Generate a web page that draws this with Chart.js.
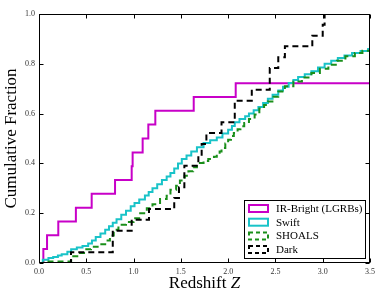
<!DOCTYPE html>
<html><head><meta charset="utf-8">
<script src="https://cdn.jsdelivr.net/npm/chart.js@4.4.1/dist/chart.umd.min.js"></script>
<style>html,body{margin:0;padding:0;background:#fff;}canvas{display:block;}</style>
</head><body>
<canvas id="c" width="390" height="293"></canvas>
<script>
// ---- data ----
const seriesNames = ['IR-Bright (LGRBs)', 'Swift', 'SHOALS', 'Dark'];
const seriesColors = ['#c800c8', '#19c3c8', '#1a8f1a', '#000000'];
const xTickValues = [0, 0.5, 1.0, 1.5, 2.0, 2.5, 3.0, 3.5];
const yTickValues = [0, 0.2, 0.4, 0.6, 0.8, 1.0];

const irZ = [0, 0.046, 0.085, 0.204, 0.39, 0.557, 0.804, 0.98, 0.99, 1.096, 1.156, 1.23, 1.636, 2.08, 3.5];
const irF = [0, 0.056, 0.111, 0.167, 0.222, 0.278, 0.333, 0.389, 0.444, 0.5, 0.556, 0.611, 0.667, 0.722, 0.722];

const swiftZ = [0, 0.04, 0.1, 0.15, 0.2, 0.24, 0.3, 0.34, 0.4, 0.46, 0.52, 0.56, 0.6, 0.65, 0.7, 0.74, 0.78, 0.82, 0.87, 0.92, 0.97, 1.01, 1.06, 1.12, 1.16, 1.2, 1.25, 1.3, 1.35, 1.39, 1.43, 1.47, 1.51, 1.56, 1.61, 1.67, 1.74, 1.81, 1.88, 1.94, 2.0, 2.04, 2.07, 2.12, 2.18, 2.22, 2.27, 2.32, 2.37, 2.42, 2.47, 2.53, 2.58, 2.64, 2.69, 2.74, 2.81, 2.88, 2.95, 3.02, 3.09, 3.16, 3.23, 3.31, 3.4, 3.48, 3.5];
const swiftF = [0, 0.013, 0.02, 0.024, 0.03, 0.035, 0.045, 0.055, 0.062, 0.068, 0.078, 0.09, 0.104, 0.118, 0.134, 0.148, 0.162, 0.176, 0.194, 0.21, 0.228, 0.241, 0.255, 0.271, 0.285, 0.3, 0.316, 0.333, 0.347, 0.361, 0.38, 0.4, 0.418, 0.432, 0.448, 0.465, 0.482, 0.493, 0.504, 0.52, 0.535, 0.55, 0.565, 0.578, 0.589, 0.6, 0.613, 0.627, 0.643, 0.66, 0.676, 0.693, 0.708, 0.723, 0.735, 0.747, 0.758, 0.77, 0.785, 0.8, 0.812, 0.823, 0.833, 0.843, 0.851, 0.859, 0.859];

const shoalsZ = [0, 0.05, 0.34, 0.42, 0.5, 0.55, 0.62, 0.7, 0.75, 0.79, 0.84, 0.92, 1.0, 1.07, 1.14, 1.2, 1.28, 1.35, 1.39, 1.45, 1.49, 1.54, 1.58, 1.63, 1.67, 1.74, 1.79, 1.85, 1.88, 1.91, 1.93, 1.97, 2.0, 2.03, 2.06, 2.1, 2.13, 2.17, 2.22, 2.28, 2.33, 2.38, 2.42, 2.48, 2.53, 2.6, 2.69, 2.78, 2.88, 2.97, 3.06, 3.15, 3.24, 3.34, 3.42, 3.5];
const shoalsF = [0, 0.006, 0.027, 0.04, 0.055, 0.065, 0.075, 0.09, 0.11, 0.134, 0.154, 0.165, 0.18, 0.2, 0.22, 0.236, 0.257, 0.27, 0.294, 0.31, 0.331, 0.35, 0.368, 0.385, 0.402, 0.41, 0.418, 0.427, 0.435, 0.448, 0.462, 0.48, 0.495, 0.51, 0.522, 0.537, 0.549, 0.562, 0.578, 0.596, 0.62, 0.635, 0.649, 0.668, 0.689, 0.71, 0.729, 0.745, 0.763, 0.78, 0.796, 0.812, 0.83, 0.843, 0.852, 0.859];

const darkZ = [0, 0.338, 0.78, 0.98, 1.163, 1.43, 1.48, 1.537, 1.685, 1.72, 1.77, 1.93, 2.07, 2.25, 2.44, 2.53, 2.6, 2.89, 3.0, 3.02];
const darkF = [0, 0.043, 0.13, 0.174, 0.217, 0.261, 0.304, 0.391, 0.435, 0.478, 0.522, 0.565, 0.652, 0.696, 0.783, 0.826, 0.87, 0.913, 0.957, 1.0];

// ---- chart ----
const SERIF = "'Liberation Serif', 'DejaVu Serif', serif";
const pts = (zs, fs) => zs.map((z, i) => ({x: z, y: fs[i]}));
const dashes = [null, null, [6, 4], [6, 4]];

const datasets = [[irZ, irF], [swiftZ, swiftF], [shoalsZ, shoalsF], [darkZ, darkF]].map((s, i) => ({
  label: seriesNames[i],
  data: pts(s[0], s[1]),
  borderColor: seriesColors[i],
  backgroundColor: '#ffffff',
  borderWidth: 2,
  borderDash: dashes[i] || [],
  stepped: 'before',
  pointRadius: 0,
  fill: false,
  order: 4 - i
}));

const framePlugin = {
  id: 'frame',
  afterDatasetsDraw(chart) {
    const {ctx, chartArea: a, scales: {x, y}} = chart;
    ctx.save();
    ctx.strokeStyle = '#000';
    ctx.lineWidth = 1;
    const L = Math.round(a.left) + 0.5, R = Math.round(a.right) - 0.5;
    const T = Math.round(a.top) + 0.5, B = Math.round(a.bottom) - 0.5;
    ctx.strokeRect(L, T, R - L, B - T);
    const tl = 4;
    ctx.beginPath();
    x.ticks.forEach(t => {
      const px = Math.round(x.getPixelForValue(t.value)) + 0.5;
      ctx.moveTo(px, B); ctx.lineTo(px, B - tl);
      ctx.moveTo(px, T); ctx.lineTo(px, T + tl);
    });
    y.ticks.forEach(t => {
      const py = Math.round(y.getPixelForValue(t.value)) + 0.5;
      ctx.moveTo(L, py); ctx.lineTo(L + tl, py);
      ctx.moveTo(R, py); ctx.lineTo(R - tl, py);
    });
    ctx.stroke();

    // x-axis title with italic Z
    ctx.fillStyle = '#000';
    ctx.textBaseline = 'alphabetic';
    const f1 = '17px ' + SERIF, f2 = 'italic 17px ' + SERIF;
    ctx.font = f1; const w1 = ctx.measureText('Redshift ').width;
    ctx.font = f2; const w2 = ctx.measureText('Z').width;
    const cx = (a.left + a.right) / 2;
    const sx = cx - (w1 + w2) / 2;
    ctx.font = f1; ctx.fillText('Redshift ', sx, 288);
    ctx.font = f2; ctx.fillText('Z', sx + w1, 288);

    // legend box (bottom right, inside axes)
    const bw = 121, bh = 58;
    const bx = Math.round(a.right) - 5 - bw, by = Math.round(a.bottom) - 5 - bh;
    ctx.fillStyle = '#fff';
    ctx.fillRect(bx, by, bw, bh);
    ctx.strokeStyle = '#000';
    ctx.lineWidth = 1;
    ctx.setLineDash([]);
    ctx.strokeRect(bx + 0.5, by + 0.5, bw, bh);
    ctx.font = '11px ' + SERIF;
    ctx.textBaseline = 'middle';
    chart.data.datasets.forEach((ds, i) => {
      const ry = by + 8.5 + i * 13.7;
      ctx.save();
      ctx.strokeStyle = ds.borderColor;
      ctx.lineWidth = 2;
      ctx.setLineDash(ds.borderDash && ds.borderDash.length ? [4, 3] : []);
      ctx.strokeRect(bx + 5, ry - 3.5, 19, 7);
      ctx.restore();
      ctx.fillStyle = '#000';
      ctx.fillText(ds.label, bx + 32, ry + 0.5);
    });
    ctx.restore();
  }
};

new Chart(document.getElementById('c'), {
  type: 'line',
  data: {datasets},
  options: {
    responsive: false,
    animation: false,
    devicePixelRatio: 1,
    layout: {padding: {top: 14, right: 20, left: 0, bottom: 0}},
    plugins: {legend: {display: false}, tooltip: {enabled: false}},
    scales: {
      x: {
        type: 'linear', min: 0, max: 3.5,
        grid: {display: false, drawTicks: false},
        border: {display: false},
        afterBuildTicks: s => { s.ticks = xTickValues.map(v => ({value: v})); },
        ticks: {padding: 4, autoSkip: false, maxRotation: 0, color: '#333',
                font: {family: SERIF, size: 8}, callback: v => Number(v).toFixed(1)},
        afterFit: s => { s.height = 30; }
      },
      y: {
        type: 'linear', min: 0, max: 1,
        grid: {display: false, drawTicks: false},
        border: {display: false},
        afterBuildTicks: s => { s.ticks = yTickValues.map(v => ({value: v})); },
        ticks: {padding: 4, color: '#333', font: {family: SERIF, size: 8},
                callback: v => Number(v).toFixed(1)},
        title: {display: true, text: 'Cumulative Fraction', color: '#000',
                font: {family: SERIF, size: 17}, padding: {top: 1, bottom: 0}},
        afterFit: s => { s.width = 39; }
      }
    }
  },
  plugins: [framePlugin]
});
</script>
</body></html>
